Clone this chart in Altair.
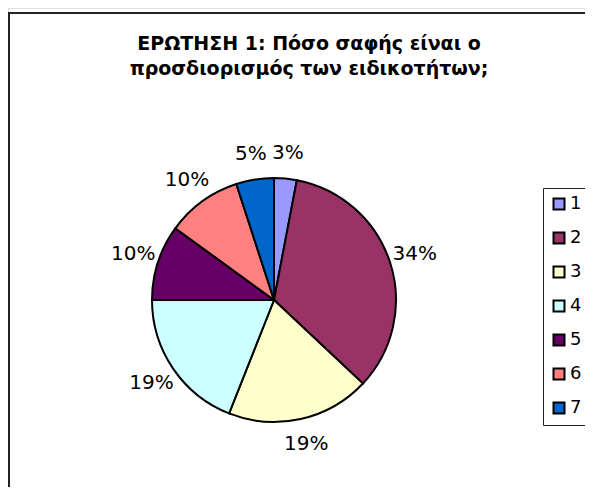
import altair as alt
import pandas as pd

categories = ["1", "2", "3", "4", "5", "6", "7"]
values = [3, 34, 19, 19, 10, 10, 5]
labels = ["3%", "34%", "19%", "19%", "10%", "10%", "5%"]
colors = ["#9999FF", "#993366", "#FFFFCC", "#CCFFFF", "#660066", "#FF8080", "#0066CC"]
title_lines = ["ΕΡΩΤΗΣΗ 1: Πόσο σαφής είναι ο", "προσδιορισμός των ειδικοτήτων;"]

W, H = 577, 479
CX, CY = 266, 292

df = pd.DataFrame({
    "cat": categories,
    "value": values,
    "label": labels,
    "ord": list(range(len(categories))),
})

base = alt.Chart(df)

arcs = base.mark_arc(stroke="black", strokeWidth=2, outerRadius=122).encode(
    theta=alt.Theta("value:Q", stack=True),
    order=alt.Order("ord:Q"),
    x=alt.value(CX),
    y=alt.value(CY),
    color=alt.Color(
        "cat:N",
        scale=alt.Scale(domain=categories, range=colors),
        legend=alt.Legend(
            title=None,
            orient="none",
            legendX=535,
            legendY=180,
            padding=7,
            strokeColor="#222222",
            symbolType="square",
            symbolSize=121,
            symbolStrokeColor="black",
            symbolStrokeWidth=2,
            symbolOpacity=1,
            labelFont="DejaVu Sans",
            labelFontSize=18,
            labelColor="black",
            labelOffset=2,
            rowPadding=14,
        ),
    ),
)

texts = base.mark_text(font="DejaVu Sans", fontSize=20, color="black", radius=148).encode(
    theta=alt.Theta("value:Q", stack=True),
    order=alt.Order("ord:Q"),
    x=alt.value(CX),
    y=alt.value(CY),
    text="label:N",
)

title = alt.Chart(pd.DataFrame({"t": [0]})).mark_text(
    font="DejaVu Sans", fontSize=19, fontWeight="bold", color="black",
    baseline="alphabetic", align="center", lineHeight=25,
).encode(x=alt.value(301), y=alt.value(42), text=alt.value(title_lines))

top_rule = alt.Chart(pd.DataFrame({"t": [0]})).mark_rule(color="#222222", strokeWidth=2).encode(
    x=alt.value(0), x2=alt.value(W), y=alt.value(5)
)
left_rule = alt.Chart(pd.DataFrame({"t": [0]})).mark_rule(color="#222222", strokeWidth=2).encode(
    x=alt.value(1), y=alt.value(4), y2=alt.value(H)
)

chart = alt.layer(top_rule, left_rule, arcs, texts, title).properties(
    width=W, height=H, padding=0, autosize=alt.AutoSizeParams(type="none")
).configure_view(stroke=None).configure(background="white")

chart.save("out.html", embed_options={"renderer": "svg", "actions": False})
